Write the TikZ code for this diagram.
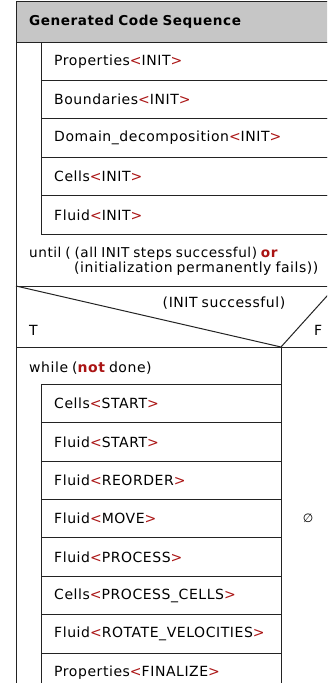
\documentclass[tikz,border=0pt]{standalone}
\usepackage{fontspec}
\setmainfont[LetterSpace=4,WordSpace=0.8]{DejaVu Sans}
\newfontfamily\symfont{DejaVu Sans}
\definecolor{kw}{RGB}{170,20,20}
\definecolor{hdr}{RGB}{198,198,198}
\definecolor{ln}{RGB}{35,35,35}
\newcommand\tg[1]{\textcolor{kw}{<}#1\textcolor{kw}{>}}
\newcommand\kwd[1]{\textcolor{kw}{\bfseries #1}}
\begin{document}
\begin{tikzpicture}[x=1pt,y=-1pt,
  frame/.style={draw=ln,line width=1pt},
  lbl/.style={anchor=west,inner sep=0pt,font=\fontsize{14}{16}\selectfont,text=black},
  ttl/.style={anchor=west,inner sep=0pt,font=\fontsize{13.6}{16}\selectfont\bfseries}]
\useasboundingbox (0,0) rectangle (327,683);
\clip (0,0) rectangle (327,683);
% header
\fill[hdr] (16,1) rectangle (345,42);
\node[ttl] (title) at (29,22) {Generated Code Sequence};
% repeat loop body rows
\foreach \y in {42,80.4,118.8,157.2,195.6}{
  \draw[frame] (41,\y) rectangle (345,\y+38.4);
}
\node[lbl] (p1) at (54,61.2) {Properties\tg{INIT}};
\node[lbl] (p2) at (54,99.6) {Boundaries\tg{INIT}};
\node[lbl] (p3) at (54,138) {Domain\_decomposition\tg{INIT}};
\node[lbl] (p4) at (54,176.4) {Cells\tg{INIT}};
\node[lbl] (p5) at (54,214.8) {Fluid\tg{INIT}};
% until
\node[lbl,font=\fontsize{13.6}{16}\selectfont] (u1) at (29,254) {until ( (all INIT steps successful) \kwd{or}};
\node[lbl] (u2) at (74,269) {(initialization permanently fails))};
\draw[frame] (16,286) -- (345,286);
% condition
\coordinate (cl) at (16,286);
\coordinate (cm) at (281,347);
\coordinate (cr) at (336,286);
\draw[frame] (cl) -- (cm) -- (cr);
\draw[frame] (16,347) -- (345,347);
\draw[frame] (cm) -- (281,700);
\node[lbl,anchor=center] (cond) at (224,303) {(INIT successful)};
\node[lbl] (T) at (29,330) {T};
\node[lbl] (F) at (314,330) {F};
% while loop
\node[lbl] (w) at (29,368) {while (\kwd{not} done)};
\foreach \y in {384.3,422.7,461.1,499.5,537.9,576.3,614.7,653.1}{
  \draw[frame] (41,\y) rectangle (281,\y+38.4);
}
\node[lbl] (s1) at (54,403.5) {Cells\tg{START}};
\node[lbl] (s2) at (54,441.9) {Fluid\tg{START}};
\node[lbl] (s3) at (54,480.3) {Fluid\tg{REORDER}};
\node[lbl] (s4) at (54,518.7) {Fluid\tg{MOVE}};
\node[lbl] (s5) at (54,557.1) {Fluid\tg{PROCESS}};
\node[lbl] (s6) at (54,595.5) {Cells\tg{PROCESS\_CELLS}};
\node[lbl] (s7) at (54,633.9) {Fluid\tg{ROTATE\_VELOCITIES}};
\node[lbl] (s8) at (54,672.3) {Properties\tg{FINALIZE}};
\node[inner sep=0pt,font=\symfont\fontsize{12}{14}\selectfont] (empty) at (308,518) {∅};
% outer frame
\draw[frame] (16,1) rectangle (345,720);
\draw[frame] (16,42) -- (345,42);
\end{tikzpicture}
\end{document}
